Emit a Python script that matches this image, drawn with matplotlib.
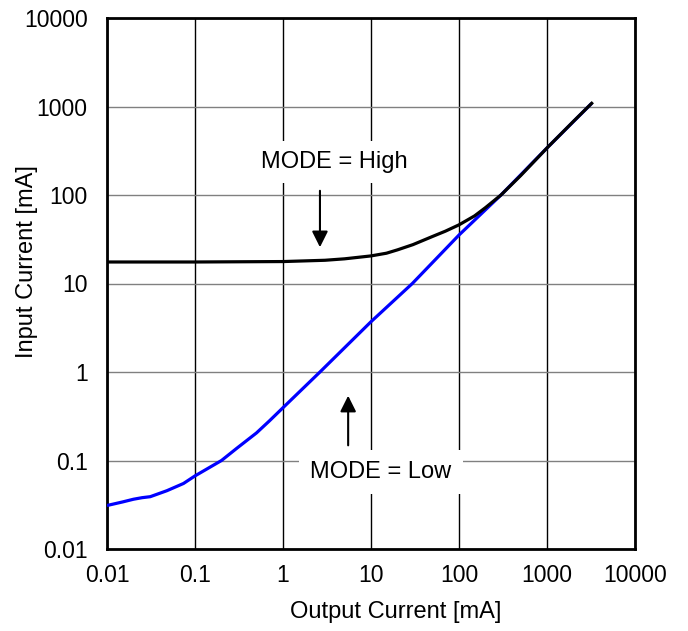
import matplotlib
matplotlib.use("Agg")
import matplotlib.pyplot as plt

plt.rcParams['font.family'] = ['Liberation Sans', 'DejaVu Sans']

# Werte (mA)
x_high = [0.01, 0.1, 1, 3, 5, 10, 15, 20, 30, 50, 70, 100, 150, 200, 300, 500, 1000, 2000, 3220]
y_high = [17.5, 17.5, 17.7, 18.3, 19, 20.5, 22, 24, 27.5, 34, 39, 46, 58, 72, 100, 165, 340, 680, 1086]

x_low = [0.01, 0.015, 0.02, 0.025, 0.031, 0.048, 0.074, 0.1, 0.2, 0.3, 0.5, 0.7, 1,
         2.63, 10, 29.5, 100, 300, 1000, 3220]
y_low = [0.031, 0.034, 0.0365, 0.038, 0.039, 0.0456, 0.055, 0.067, 0.1, 0.138, 0.205, 0.28, 0.395,
         1.0, 3.7, 10, 35.3, 100, 340, 1086]

ticks = [0.01, 0.1, 1, 10, 100, 1000, 10000]
tick_labels = ['0.01', '0.1', '1', '10', '100', '1000', '10000']

W, H = 688, 631
fig = plt.figure(figsize=(W / 100, H / 100), dpi=100)
ax = fig.add_axes([107 / W, 1 - 549 / H, 528 / W, 531 / H])

ax.plot(x_low, y_low, color='#0000ff', lw=2.3, solid_capstyle='butt', zorder=3)
ax.plot(x_high, y_high, color='black', lw=2.3, zorder=4)

ax.set_xscale('log')
ax.set_yscale('log')
ax.set_xlim(0.01, 10000)
ax.set_ylim(0.01, 10000)
ax.set_xticks(ticks)
ax.set_xticklabels(tick_labels)
ax.set_yticks(ticks)
ax.set_yticklabels(tick_labels)
ax.minorticks_off()
ax.tick_params(labelsize=16.5, length=0)
ax.tick_params(axis='x', pad=11)
ax.tick_params(axis='y', pad=14)

ax.xaxis.grid(True, color='black', lw=1)
ax.yaxis.grid(True, color='#808080', lw=1)
ax.set_axisbelow(True)
for s in ax.spines.values():
    s.set_linewidth(2)

# Achsentitel (im Original nicht mittig zur Achse)
fig.text(396 / W, 1 - 612 / H, 'Output Current [mA]', fontsize=17, ha='center', va='center')
fig.text(27 / W, 1 - 262 / H, 'Input Current [mA]', fontsize=17, ha='center', va='center',
         rotation=90)

# Beschriftungen mit Pfeilen
ax.text(3.8, 236, 'MODE = High', fontsize=17, ha='center', va='center',
        bbox=dict(facecolor='white', edgecolor='none', pad=7), zorder=5)
ax.annotate('', xy=(2.63, 23.9), xytext=(2.63, 120),
            arrowprops=dict(arrowstyle='-|>', color='black', lw=1.5, mutation_scale=24), zorder=5)

ax.text(13, 0.074, 'MODE = Low', fontsize=17, ha='center', va='center',
        bbox=dict(facecolor='white', edgecolor='none', pad=8), zorder=5)
ax.annotate('', xy=(5.5, 0.58), xytext=(5.5, 0.138),
            arrowprops=dict(arrowstyle='-|>', color='black', lw=1.5, mutation_scale=24), zorder=5)

fig.savefig('out.png', dpi=100)
